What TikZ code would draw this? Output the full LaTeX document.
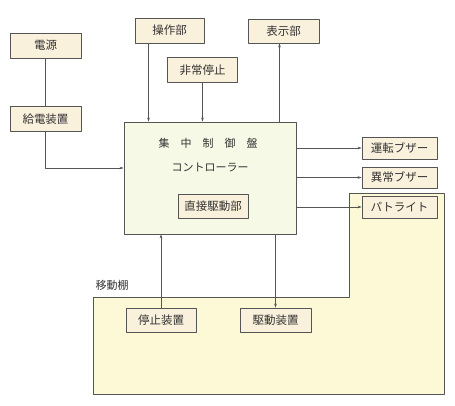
\documentclass[tikz,border=0pt]{standalone}
\usepackage{fontspec}
\setmainfont{Noto Sans CJK JP}
\usetikzlibrary{arrows.meta}

\definecolor{boxfill}{HTML}{FAF1DC}
\definecolor{panelfill}{HTML}{F6F9E6}
\definecolor{shelffill}{HTML}{FDF8D5}
\definecolor{linegray}{HTML}{555555}

\tikzset{
  unit/.style={draw=linegray, fill=boxfill, line width=0.7pt, inner sep=0pt,
    minimum width=71pt, minimum height=24pt, text=black!80, font=\fontsize{11.5}{13}\selectfont},
  arr/.style={draw=linegray, line width=0.6pt, -{Stealth[length=4pt,width=2.6pt]}},
  wire/.style={draw=linegray, line width=0.6pt},
}

\begin{document}
\begin{tikzpicture}[x=1pt, y=-1pt, line join=round]
  \useasboundingbox (0,0) rectangle (455,406);

  % moving shelf area
  \fill[shelffill] (93,297) -- (349,297) -- (349,193) -- (444,193) -- (444,394) -- (93,394) -- cycle;
  \draw[linegray, line width=0.7pt] (93,297) -- (349,297) -- (349,193) -- (444,193) -- (444,394) -- (93,394) -- cycle;
  \node[text=black!80, font=\fontsize{11}{12}\selectfont] (shelf) at (112,285) {移動棚};

  % control panel
  \node[draw=linegray, fill=panelfill, line width=0.7pt, minimum width=172pt, minimum height=112pt] (panel) at (210,178) {};
  \node[text=black!80, font=\fontsize{11}{13}\selectfont] (title) at (208,143) {集\quad 中\quad 制\quad 御\quad 盤};
  \node[text=black!80, font=\fontsize{11}{13}\selectfont] (ctrl) at (210,167) {コントローラー};
  \node[unit, minimum width=70pt] (direct) at (213,206) {直接駆動部};

  % units
  \node[unit, minimum height=25pt] (power) at (45.5,45.5) {電源};
  \node[unit, minimum height=25pt] (feed) at (45.5,119) {給電装置};
  \node[unit, minimum width=69pt, minimum height=25pt] (oper) at (169.5,30.5) {操作部};
  \node[unit, minimum width=70pt, minimum height=25pt] (estop) at (202.5,70) {非常停止};
  \node[unit] (disp) at (283.5,31) {表示部};
  \node[unit, minimum width=75pt, minimum height=22pt] (runbz) at (399.5,148) {運転ブザー};
  \node[unit, minimum width=75pt, minimum height=21pt] (errbz) at (399.5,177.5) {異常ブザー};
  \node[unit, minimum width=75pt, minimum height=22pt] (patlite) at (399.5,207) {パトライト};
  \node[unit, minimum width=70pt] (stopdev) at (161,320) {停止装置};
  \node[unit] (drivedev) at (275.5,320) {駆動装置};

  % connections
  \coordinate (operout) at ([xshift=-21pt]oper.south);
  \coordinate (dispin) at ([xshift=-4pt]disp.south);
  \draw[wire] (power) -- (feed);
  \draw[arr] (feed.south) |- ([yshift=10pt]panel.west);
  \draw[arr] (operout) -- (operout |- panel.north);
  \draw[arr] (estop) -- (estop.south |- panel.north);
  \draw[arr] (dispin |- panel.north) -- (dispin);
  \foreach \n in {runbz, errbz, patlite}
    \draw[arr] (panel.east |- \n.west) -- (\n.west);
  \draw[arr] (stopdev) -- (stopdev.north |- panel.south);
  \draw[arr] (drivedev.north |- panel.south) -- (drivedev);
\end{tikzpicture}
\end{document}
